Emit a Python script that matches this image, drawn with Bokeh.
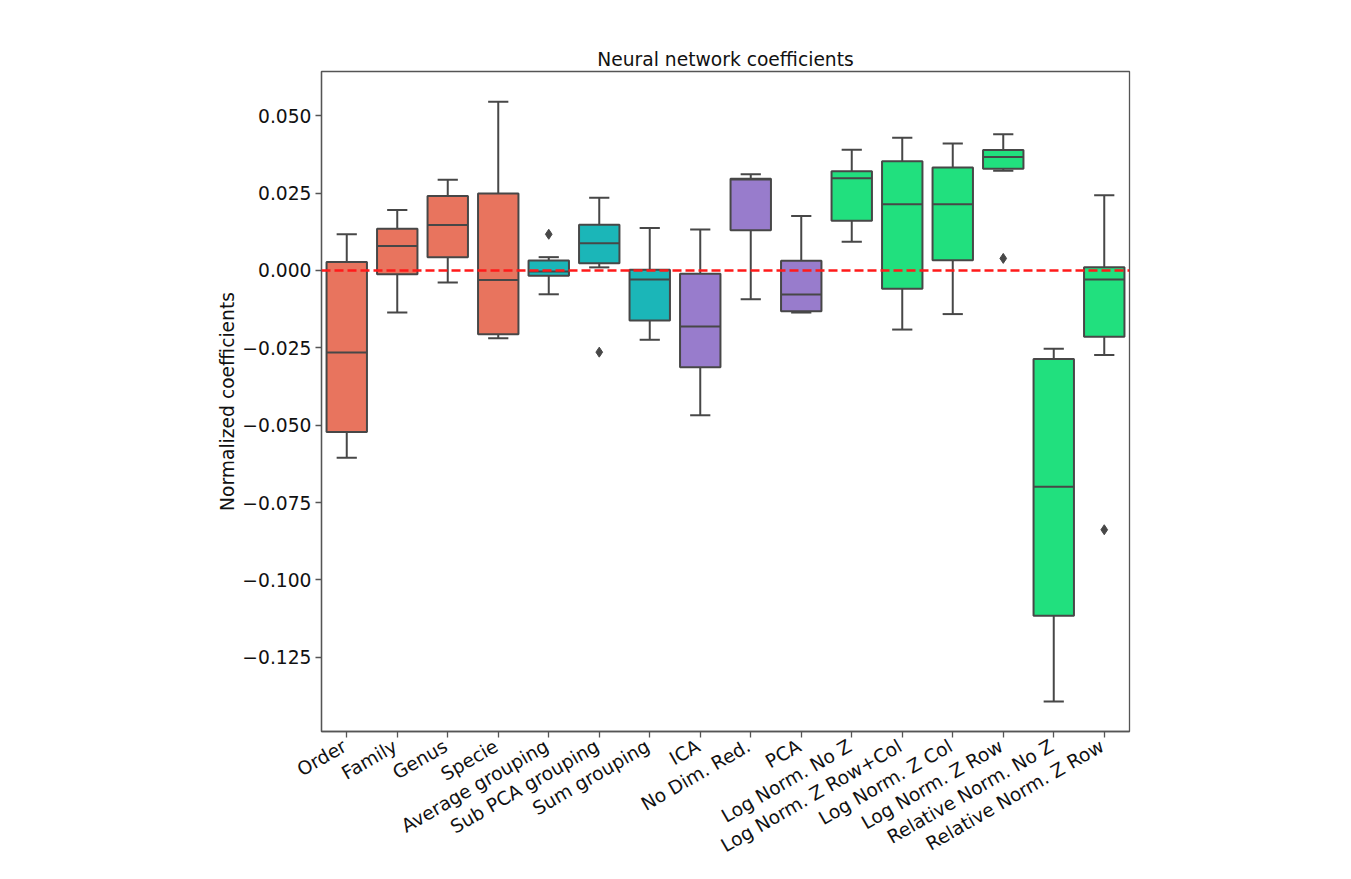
import math
from bokeh.plotting import figure
from bokeh.models import (FactorRange, Range1d, Span, ColumnDataSource, FixedTicker,
                          CustomJSTickFormatter)
from bokeh.core.properties import value
from bokeh.transform import dodge
from bokeh.embed import file_html
from bokeh.resources import INLINE

categories = ["Order", "Family", "Genus", "Specie", "Average grouping", "Sub PCA grouping",
              "Sum grouping", "ICA", "No Dim. Red.", "PCA", "Log Norm. No Z",
              "Log Norm. Z Row+Col", "Log Norm. Z Col", "Log Norm. Z Row",
              "Relative Norm. No Z", "Relative Norm. Z Row"]
groups = ["taxonomy"] * 4 + ["grouping"] * 3 + ["dimred"] * 3 + ["norm"] * 6
lower_whisker = [-0.0605, -0.0136, -0.0039, -0.0219, -0.0077, 0.0010, -0.0224, -0.0468,
                 -0.0093, -0.0136, 0.0093, -0.0191, -0.0141, 0.0322, -0.1393, -0.0273]
q1 = [-0.0522, -0.0012, 0.0043, -0.0206, -0.0017, 0.0023, -0.0162, -0.0313,
      0.0130, -0.0132, 0.0161, -0.0059, 0.0033, 0.0329, -0.1116, -0.0214]
median = [-0.0265, 0.0079, 0.0147, -0.0031, -0.0003, 0.0088, -0.0029, -0.0181,
          0.0294, -0.0078, 0.0298, 0.0214, 0.0214, 0.0367, -0.0699, -0.0029]
q3 = [0.0027, 0.0135, 0.0241, 0.0249, 0.0032, 0.0148, 0.0002, -0.0011,
      0.0296, 0.0031, 0.0321, 0.0353, 0.0333, 0.0389, -0.0286, 0.0010]
upper_whisker = [0.0117, 0.0195, 0.0293, 0.0545, 0.0043, 0.0235, 0.0137, 0.0132,
                 0.0311, 0.0176, 0.0390, 0.0429, 0.0410, 0.0440, -0.0253, 0.0243]
outlier_categories = ["Average grouping", "Sub PCA grouping", "Log Norm. Z Row",
                      "Relative Norm. Z Row"]
outlier_values = [0.0117, -0.0264, 0.0039, -0.0838]
y_ticks = [-0.125, -0.1, -0.075, -0.05, -0.025, 0.0, 0.025, 0.05]

group_colors = {"taxonomy": "#E8745E", "grouping": "#1BB6B8", "dimred": "#987CCC",
                "norm": "#21E07E"}
line_col = "#474747"
font_size = "18.7px"

src = ColumnDataSource(dict(cat=categories, lo=lower_whisker, q1=q1, med=median, q3=q3,
                            hi=upper_whisker,
                            color=[group_colors[g] for g in groups]))
out_src = ColumnDataSource(dict(cat=outlier_categories, val=outlier_values))

y_range = Range1d(-0.149, 0.0643)
p = figure(width=1335, height=863, output_backend="svg", toolbar_location=None,
           x_range=FactorRange(factors=categories), y_range=y_range,
           title="Neural network coefficients",
           min_border_left=321, min_border_right=206, min_border_top=71,
           min_border_bottom=132)
p.background_fill_color = "white"
p.border_fill_color = "white"
p.outline_line_color = "#555555"
p.outline_line_width = 1.3
p.xgrid.visible = False
p.ygrid.visible = False

p.title.align = "center"
p.title.text_font = "DejaVu Sans"
p.title.text_font_style = "normal"
p.title.text_font_size = font_size
p.title.text_color = "#111111"
p.title.standoff = 4

# whiskers
p.segment(x0="cat", y0="q3", x1="cat", y1="hi", source=src, line_color=line_col, line_width=2)
p.segment(x0="cat", y0="q1", x1="cat", y1="lo", source=src, line_color=line_col, line_width=2)
# caps
p.segment(x0=dodge("cat", -0.2, range=p.x_range), y0="hi",
          x1=dodge("cat", 0.2, range=p.x_range), y1="hi", source=src,
          line_color=line_col, line_width=2)
p.segment(x0=dodge("cat", -0.2, range=p.x_range), y0="lo",
          x1=dodge("cat", 0.2, range=p.x_range), y1="lo", source=src,
          line_color=line_col, line_width=2)
# boxes
p.vbar(x="cat", width=0.8, bottom="q1", top="q3", source=src, fill_color="color",
       line_color=line_col, line_width=2)
# medians
p.segment(x0=dodge("cat", -0.4, range=p.x_range), y0="med",
          x1=dodge("cat", 0.4, range=p.x_range), y1="med", source=src,
          line_color=line_col, line_width=2)
# outliers
p.scatter(x="cat", y="val", source=out_src, marker="diamond", size=10,
          fill_color=line_col, line_color=line_col)

p.add_layout(Span(location=0, dimension="width", line_color="#FF1A1A", line_width=2.5,
                  line_dash="9 4"))

for ax in (p.xaxis[0], p.yaxis[0]):
    ax.axis_line_color = "#555555"
    ax.axis_line_width = 1.3
    ax.major_tick_line_color = "#555555"
    ax.major_tick_line_width = 1.3
    ax.major_tick_out = 6
    ax.major_tick_in = 0
    ax.minor_tick_line_color = None
    ax.major_label_text_font = "DejaVu Sans"
    ax.major_label_text_font_size = font_size
    ax.major_label_text_color = "#111111"

p.yaxis.ticker = FixedTicker(ticks=y_ticks)
p.yaxis.formatter = CustomJSTickFormatter(
    code="return (tick < -1e-12 ? '\\u2212' : '') + Math.abs(tick).toFixed(3);")
p.yaxis.major_label_standoff = 4
p.yaxis.axis_label = "Normalized coefficients"
p.yaxis.axis_label_text_font = "DejaVu Sans"
p.yaxis.axis_label_text_font_style = "normal"
p.yaxis.axis_label_text_font_size = font_size
p.yaxis.axis_label_text_color = "#111111"
p.yaxis.axis_label_standoff = 1

# x tick labels: the axis' own labels are not drawn; they are drawn as rotated text
# (30 degrees) with the right end anchored under each tick
p.xaxis.major_label_text_color = None
p.xaxis.major_label_text_alpha = 0
lab_src = ColumnDataSource(dict(cat=categories, y=[y_range.start] * len(categories)))
lab = p.text(x="cat", y="y", text="cat", source=lab_src, angle=value(math.pi / 6),
             angle_units="rad", x_offset=value(-2), y_offset=value(13),
             text_align=value("right"), text_baseline=value("alphabetic"),
             text_font=value("DejaVu Sans"), text_font_size=value(font_size),
             text_color=value("#111111"))
lab.level = "overlay"

open("out.html", "w").write(file_html(p, INLINE))
